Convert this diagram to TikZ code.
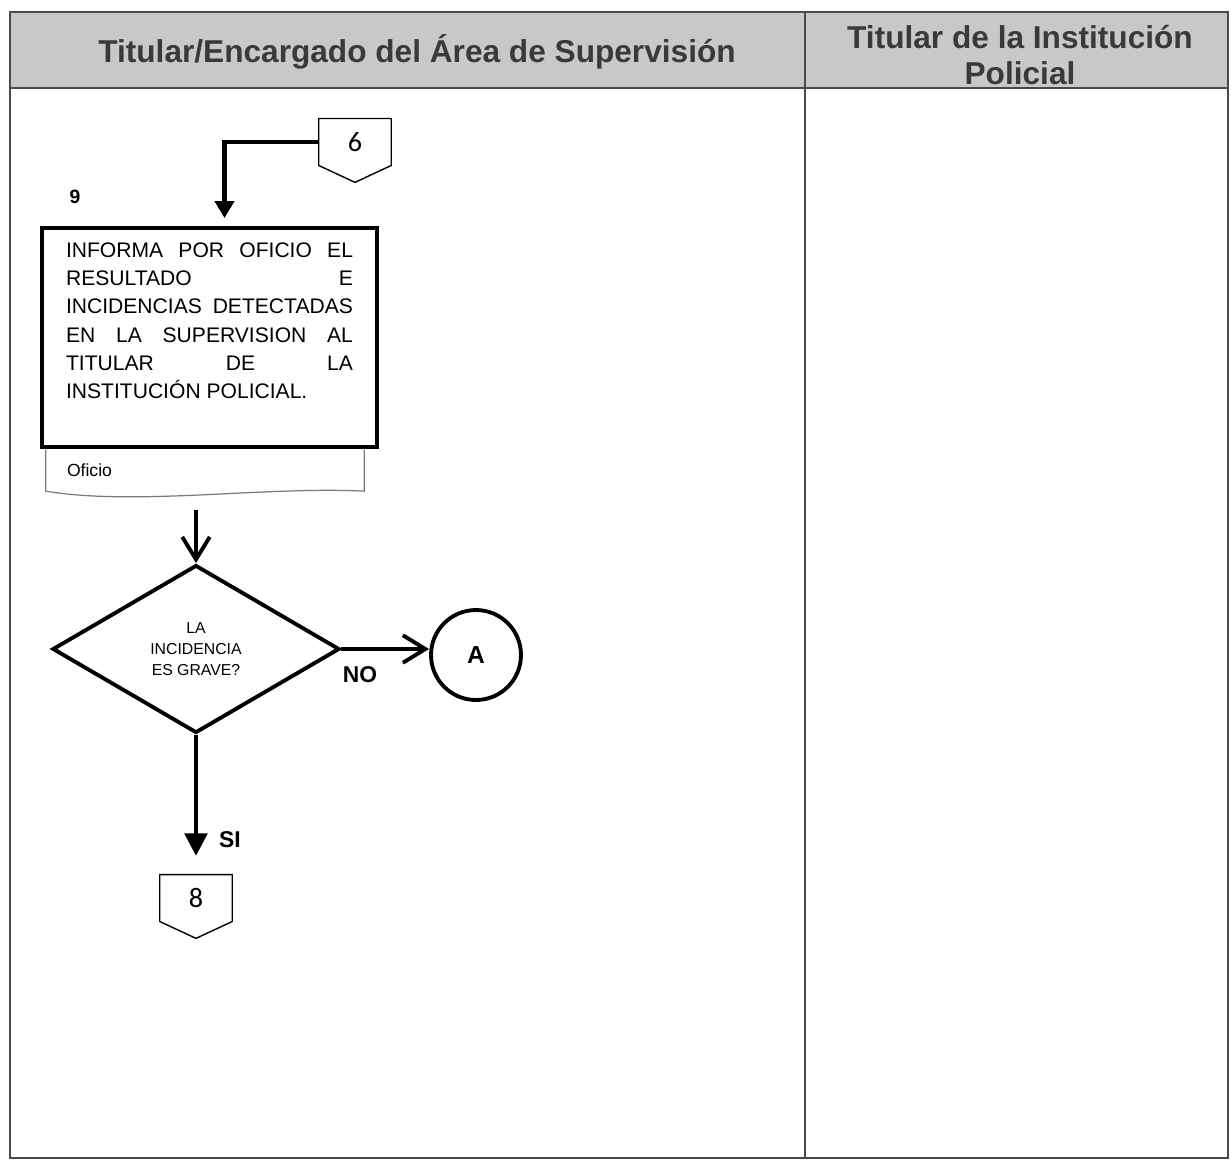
\documentclass[tikz,border=0pt]{standalone}
\usepackage{fontspec}
\setmainfont{Liberation Sans}
\newfontfamily\numfont{Carlito}
\usepackage{xcolor}
\definecolor{LaneGray}{HTML}{C8C8C8}
\definecolor{LaneLine}{HTML}{4A4A4A}
\definecolor{HeadText}{HTML}{3A3A3A}
\definecolor{DocLine}{HTML}{7A7A7A}
\usetikzlibrary{shapes.geometric, shapes.symbols, arrows.meta, positioning, calc}
\tikzset{
  % Box styles
  processbox/.style={rectangle, draw=black, line width=2.8pt, fill=white, minimum width=6.7cm, minimum height=4.38cm, inner xsep=0pt, inner ysep=0.3cm, font=\fontsize{12}{16}\selectfont},
  docbox/.style={rectangle, draw=none, minimum width=6.36cm, minimum height=0.82cm, text width=5.52cm, align=left, font=\fontsize{10}{12}\selectfont},
  decisionbox/.style={diamond, draw=black, line width=2.2pt, aspect=1.71, minimum width=5.74cm, minimum height=3.36cm, inner sep=0pt, align=center, font=\fontsize{9}{12}\selectfont},
  pagebox/.style={signal, signal to=south, signal from=nowhere, signal pointer angle=130, draw=black, line width=0.8pt, minimum width=1.45cm, minimum height=1.06cm, font=\numfont\fontsize{16}{18}\selectfont},
  connectnode/.style={circle, draw=black, line width=2.2pt, minimum size=1.8cm, font=\bfseries\fontsize{14}{16}\selectfont},
  % Text styles
  lanehead/.style={font=\bfseries\fontsize{18}{21}\selectfont, text=HeadText, align=center},
  labeltext/.style={font=\bfseries\fontsize{13}{15}\selectfont, inner sep=0pt},
  % Arrow styles
  solidarrow/.style={-{Triangle[length=0.34cm, width=0.38cm]}, line width=2.4pt},
  bigarrow/.style={-{Triangle[length=0.45cm, width=0.45cm]}, line width=2.4pt},
  openarrow/.style={-{Straight Barb[length=0.45cm, width=0.55cm]}, line width=2.2pt},
  docline/.style={draw=DocLine, line width=0.7pt}
}
\begin{document}
\begin{tikzpicture}[x=0.02cm, y=-0.02cm]
  \useasboundingbox (0,0) rectangle (1231,1161);
  % Swimlanes
  \fill[LaneGray] (10,12) rectangle (1228,88);
  \draw[LaneLine, line width=0.8pt] (10,12) rectangle (1228,1158);
  \draw[LaneLine, line width=1.2pt] (10,88) -- (1228,88);
  \draw[LaneLine, line width=0.8pt] (805,12) -- (805,1158);
  \node[lanehead] (laneA) at (417,52) {Titular/Encargado del Área de Supervisión};
  \node[lanehead] (laneB) at (1020,55) {Titular de la Institución\\Policial};

  % Flow
  \node[pagebox] (c6) at (355,142) {6};
  \node[labeltext, font=\bfseries\fontsize{11}{13}\selectfont] (n9) at (75,197) {9};
  \node[processbox] (p9) at (209.5,337.5) {\parbox[t][3.78cm][t]{5.74cm}{%
    \makebox[\linewidth][s]{INFORMA POR OFICIO EL}\\
    \makebox[\linewidth][s]{RESULTADO E}\\
    \makebox[\linewidth][s]{INCIDENCIAS DETECTADAS}\\
    \makebox[\linewidth][s]{EN LA SUPERVISION AL}\\
    \makebox[\linewidth][s]{TITULAR DE LA}\\
    INSTITUCIÓN POLICIAL.}};
  \node[docbox, below=0pt of p9, xshift=-0.09cm] (doc) {Oficio};
  \draw[docline] (doc.north west) -- (doc.south west) .. controls +(1.8cm,-0.3cm) and +(-2cm,0.1cm) .. (doc.south east) -- (doc.north east);
  \node[decisionbox] (dec) at (196,649) {LA\\INCIDENCIA\\ES GRAVE?};
  \node[connectnode] (ca) at (476,655) {A};
  \node[labeltext] (no) at (360,675) {NO};
  \node[labeltext] (si) at (230,840) {SI};
  \node[pagebox] (c8) at (196,898) {8};

  % Connectors
  \draw[solidarrow, shorten >=0.15cm] (c6.west) -| ([xshift=0.3cm]p9.north);
  \draw[openarrow] ($(doc.south -| dec.north)+(0,-0.38cm)$) -- (dec.north);
  \draw[openarrow] (dec.east) -- (ca.west |- dec.east);
  \draw[bigarrow] (dec.south) -- ([yshift=0.36cm]c8.north);
\end{tikzpicture}
\end{document}
